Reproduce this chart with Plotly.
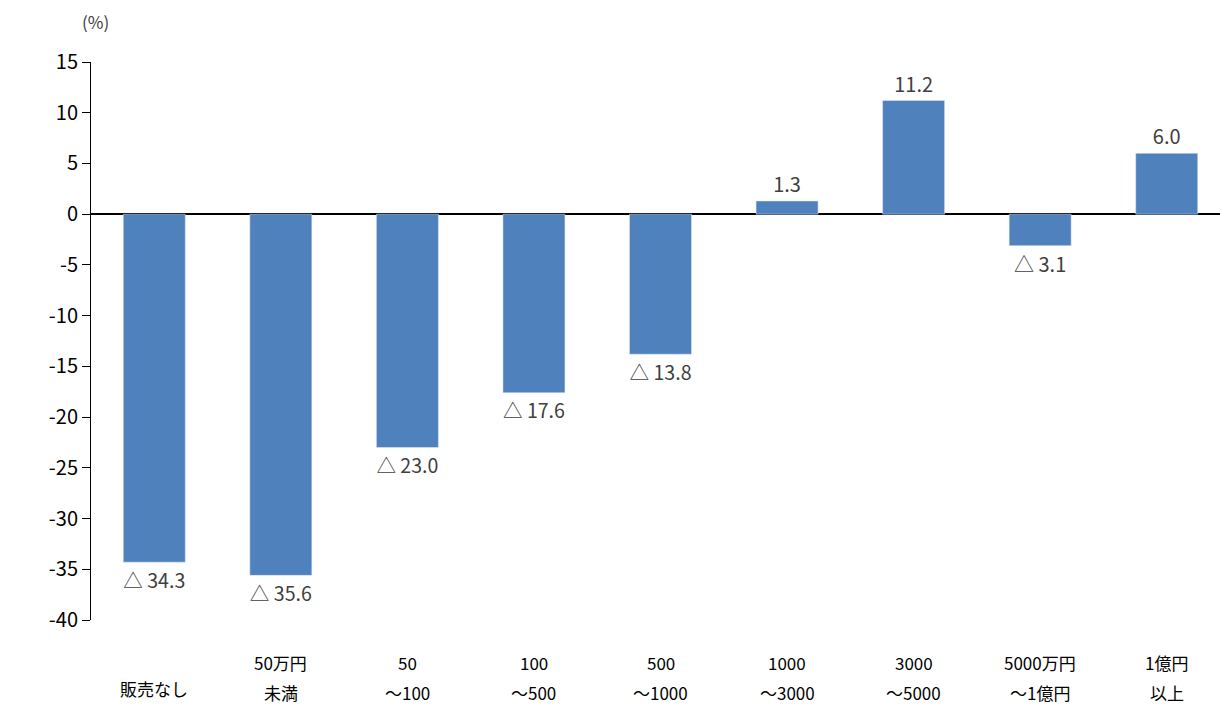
import plotly.graph_objects as go

categories = ["販売なし", "50万円未満", "50～100", "100～500", "500～1000",
              "1000～3000", "3000～5000", "5000万円～1億円", "1億円以上"]
label_lines = [["販売なし"], ["50万円", "未満"], ["50", "～100"], ["100", "～500"],
               ["500", "～1000"], ["1000", "～3000"], ["3000", "～5000"],
               ["5000万円", "～1億円"], ["1億円", "以上"]]
values = [-34.3, -35.6, -23.0, -17.6, -13.8, 1.3, 11.2, -3.1, 6.0]
labels = [("△ %.1f" % -v) if v < 0 else ("%.1f" % v) for v in values]
yticks = list(range(-40, 20, 5))

fig = go.Figure(go.Bar(
    x=categories, y=values, width=0.49,
    marker_color='#4f81bd',
    text=labels, textposition='outside',
    textfont=dict(size=20, color='#404040'),
    cliponaxis=False,
))

annotations = [dict(text='(%)', x=0.0, y=1.0, xref='paper', yref='paper',
                    xanchor='right', yanchor='bottom', yshift=26, xshift=20,
                    showarrow=False, font=dict(size=17, color='#404040'))]
for cat, lines in zip(categories, label_lines):
    shifts = [-68] if len(lines) == 1 else [-42, -72]
    for line, s in zip(lines, shifts):
        annotations.append(dict(text=line, x=cat, y=0, xref='x', yref='paper',
                                yanchor='middle', yshift=s, showarrow=False,
                                font=dict(size=17, color='black')))

fig.update_layout(
    width=1228, height=713,
    margin=dict(l=83, r=6, t=54, b=101, autoexpand=False),
    plot_bgcolor='white', paper_bgcolor='white',
    font=dict(family='Noto Sans CJK JP', color='black'),
    showlegend=False,
    annotations=annotations,
)
fig.update_yaxes(range=[-40, 15], tickvals=yticks, ticktext=[str(t) for t in yticks],
                 showgrid=False, zeroline=True,
                 zerolinecolor='black', zerolinewidth=1.5,
                 showline=True, linecolor='black', ticks='outside', ticklen=8,
                 tickcolor='black', tickfont=dict(size=20))
fig.update_xaxes(showgrid=False, showticklabels=False, ticklen=0)

fig.write_html("out.html")
